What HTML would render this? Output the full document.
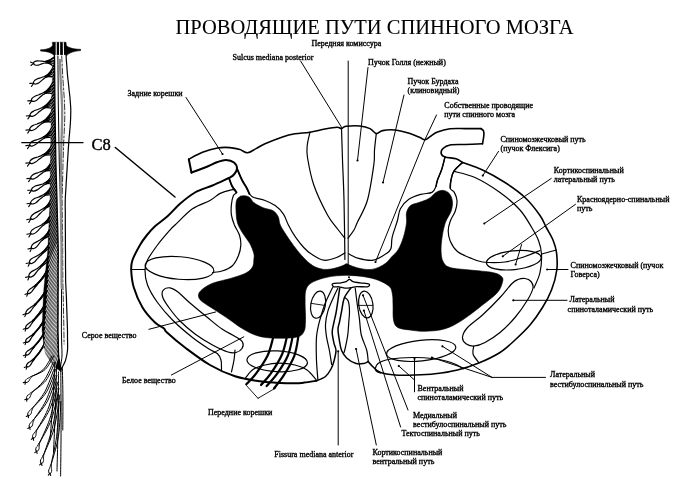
<!DOCTYPE html>
<html lang="ru">
<head>
<meta charset="utf-8">
<title>Проводящие пути спинного мозга</title>
<style>
html,body{margin:0;padding:0;background:#fff;}
body{width:688px;height:491px;overflow:hidden;}
svg{display:block;will-change:transform;}
text{font-family:"Liberation Serif","DejaVu Serif",serif;}
.lb{font-weight:400;stroke:#000;stroke-width:0.35px;}
.ti{font-weight:400;stroke:#000;stroke-width:0.08px;}
.c8{font-weight:400;stroke:#000;stroke-width:0.4px;}
</style>
</head>
<body>
<svg width="688" height="491" viewBox="0 0 688 491">
<rect width="688" height="491" fill="#fff"/>
<g stroke-linecap="round" stroke-linejoin="round">
<path d="M54.5 60L54.6 66L54.7 72L54.7 78L54.8 84L54.8 90L54.9 96L54.9 102L55 108L55.1 114L55.2 120L55.3 126L55.4 132L55.4 138L55.5 144L55.6 150L55.7 156L55.9 162L56 168L56.2 174L56.4 180L56.6 186L56.8 192L56.9 198L57.1 204L57.3 210L57.4 216L57.6 222L57.7 228L57.9 234L58 240L58.2 246L58.3 252L58.3 258L58.2 264L58.2 270L58.2 276L58.2 282L58.2 288L58.1 294L58.1 300L58.1 306L58.1 312L58 318L58 324L58 330L58.1 336L58.3 342L58.4 348L58.6 354L59.2 360L60.4 366L61.3 369L61.3 372L53.4 366L49.2 360L45.6 354L44.1 348L43.4 342L42.7 336L42 330L42.2 324L42.5 318L42.7 312L43 306L43.2 300L43.5 294L43.9 288L44.5 282L45.1 276L45.7 270L46.3 264L47 258L47.6 252L48 246L48.2 240L48.5 234L48.8 228L49 222L49.3 216L49.6 210L49.8 204L50 198L50.1 192L50.1 186L50.2 180L50.3 174L50.3 168L50.4 162L50.5 156L50.6 150L50.7 144L50.8 138L50.9 132L51 126L51.1 120L51.2 114L51.3 108L51.5 102L51.7 96L51.9 90L52.1 84L52.4 78L52.8 72L53.3 66L53.8 60Z" fill="#000" stroke="#000" stroke-width="0.3"/>
<path d="M45.8 61.4C50.1 60.9 52.8 58.2 54.8 56.5" fill="none" stroke="#000" stroke-width="1.4"/>
<path d="M45.7 61.8C50 61.3 52.8 58.8 54.8 57.2" fill="none" stroke="#000" stroke-width="1.4"/>
<path d="M45.7 62.1C49.6 61.7 52.7 61.1 54.7 60.5" fill="none" stroke="#000" stroke-width="1.4"/>
<path d="M45.7 62.5C49.5 62 52.5 63.3 54.5 63.8" fill="none" stroke="#000" stroke-width="1.4"/>
<path d="M45.7 62.8C49.8 62.4 52.4 65.5 54.4 67" fill="none" stroke="#000" stroke-width="1.4"/>
<path d="M46 75.8C52 72.5 52.6 67.5 54.6 63" fill="none" stroke="#000" stroke-width="1.4"/>
<path d="M45.9 76.1C50.9 73.4 52.4 69.9 54.4 66.5" fill="none" stroke="#000" stroke-width="1.4"/>
<path d="M45.8 76.5C49.9 74.2 52.3 72.3 54.3 70" fill="none" stroke="#000" stroke-width="1.4"/>
<path d="M45.7 76.8C49.1 75 52.1 74.7 54.1 73.5" fill="none" stroke="#000" stroke-width="1.4"/>
<path d="M45.6 77.2C48.7 75.5 52.1 77.1 54.1 77" fill="none" stroke="#000" stroke-width="1.4"/>
<path d="M44.2 92.5C50.3 88.8 52 84.2 54 79.7" fill="none" stroke="#000" stroke-width="1.4"/>
<path d="M44.1 92.9C49.3 89.7 52 86.6 54 83.2" fill="none" stroke="#000" stroke-width="1.4"/>
<path d="M43.9 93.2C48.4 90.6 51.9 89 53.9 86.7" fill="none" stroke="#000" stroke-width="1.4"/>
<path d="M43.8 93.6C47.7 91.2 51.9 91.4 53.9 90.2" fill="none" stroke="#000" stroke-width="1.4"/>
<path d="M43.7 93.9C47.4 91.7 51.8 93.8 53.8 93.7" fill="none" stroke="#000" stroke-width="1.4"/>
<path d="M43.3 107.2C49.5 103.5 51.8 98.9 53.8 94.4" fill="none" stroke="#000" stroke-width="1.4"/>
<path d="M43.1 107.6C48.5 104.3 51.7 101.3 53.7 97.9" fill="none" stroke="#000" stroke-width="1.4"/>
<path d="M43 107.9C47.7 105.1 51.7 103.7 53.7 101.4" fill="none" stroke="#000" stroke-width="1.4"/>
<path d="M42.9 108.3C47.1 105.8 51.7 106.1 53.7 104.9" fill="none" stroke="#000" stroke-width="1.4"/>
<path d="M42.8 108.6C46.8 106.2 51.7 108.5 53.7 108.4" fill="none" stroke="#000" stroke-width="1.4"/>
<path d="M42.4 121.8C49.4 117.6 51.7 112.2 53.7 107" fill="none" stroke="#000" stroke-width="1.4"/>
<path d="M42.2 122.2C48.4 118.5 51.6 114.7 53.6 110.8" fill="none" stroke="#000" stroke-width="1.4"/>
<path d="M42.1 122.5C47.4 119.4 51.6 117.3 53.6 114.5" fill="none" stroke="#000" stroke-width="1.4"/>
<path d="M42 122.9C46.7 120.1 51.6 119.9 53.6 118.2" fill="none" stroke="#000" stroke-width="1.4"/>
<path d="M41.9 123.2C46.3 120.6 51.6 122.4 53.6 122" fill="none" stroke="#000" stroke-width="1.4"/>
<path d="M43.2 137.3C50.2 133.4 51.6 127.7 53.6 122.5" fill="none" stroke="#000" stroke-width="1.4"/>
<path d="M43.1 137.6C49.1 134.3 51.6 130.2 53.6 126.2" fill="none" stroke="#000" stroke-width="1.4"/>
<path d="M43 138C48.1 135.2 51.6 132.8 53.6 130" fill="none" stroke="#000" stroke-width="1.4"/>
<path d="M42.9 138.3C47.3 135.9 51.6 135.4 53.6 133.8" fill="none" stroke="#000" stroke-width="1.4"/>
<path d="M42.8 138.7C46.9 136.4 51.6 137.9 53.6 137.5" fill="none" stroke="#000" stroke-width="1.4"/>
<path d="M43.2 154.8C50.2 150.9 51.6 145.2 53.6 140" fill="none" stroke="#000" stroke-width="1.4"/>
<path d="M43.1 155.1C49.1 151.8 51.6 147.7 53.6 143.8" fill="none" stroke="#000" stroke-width="1.4"/>
<path d="M43 155.5C48.1 152.7 51.6 150.3 53.6 147.5" fill="none" stroke="#000" stroke-width="1.4"/>
<path d="M42.9 155.8C47.3 153.4 51.6 152.9 53.6 151.2" fill="none" stroke="#000" stroke-width="1.4"/>
<path d="M42.8 156.2C46.9 153.9 51.6 155.4 53.6 155" fill="none" stroke="#000" stroke-width="1.4"/>
<path d="M44.1 170.3C50.9 166.5 51.6 160.7 53.6 155.5" fill="none" stroke="#000" stroke-width="1.4"/>
<path d="M44 170.6C49.7 167.4 51.6 163.2 53.6 159.2" fill="none" stroke="#000" stroke-width="1.4"/>
<path d="M43.9 171C48.7 168.3 51.6 165.8 53.6 163" fill="none" stroke="#000" stroke-width="1.4"/>
<path d="M43.8 171.3C47.9 169 51.7 168.4 53.7 166.8" fill="none" stroke="#000" stroke-width="1.4"/>
<path d="M43.7 171.7C47.5 169.6 51.7 170.9 53.7 170.5" fill="none" stroke="#000" stroke-width="1.4"/>
<path d="M45 183C51.8 179.7 51.7 173.5 53.7 168.3" fill="none" stroke="#000" stroke-width="1.4"/>
<path d="M44.9 183.4C50.6 180.6 51.7 176 53.7 172.1" fill="none" stroke="#000" stroke-width="1.4"/>
<path d="M44.8 183.7C49.5 181.4 51.8 178.6 53.8 175.8" fill="none" stroke="#000" stroke-width="1.4"/>
<path d="M44.7 184.1C48.6 182.2 51.8 181.1 53.8 179.6" fill="none" stroke="#000" stroke-width="1.4"/>
<path d="M44.6 184.4C48.2 182.7 51.8 183.7 53.8 183.3" fill="none" stroke="#000" stroke-width="1.4"/>
<path d="M43.7 194.8C50.4 190.6 51.8 185.2 53.8 180" fill="none" stroke="#000" stroke-width="1.4"/>
<path d="M43.6 195.2C49.3 191.6 51.8 187.7 53.8 183.8" fill="none" stroke="#000" stroke-width="1.4"/>
<path d="M43.4 195.5C48.3 192.5 51.9 190.3 53.9 187.5" fill="none" stroke="#000" stroke-width="1.4"/>
<path d="M43.3 195.9C47.6 193.3 51.9 192.9 53.9 191.2" fill="none" stroke="#000" stroke-width="1.4"/>
<path d="M43.2 196.2C47.2 193.8 52 195.4 54 195" fill="none" stroke="#000" stroke-width="1.4"/>
<path d="M44.3 208.2C54.8 200.3 51.8 190.1 53.8 180.3" fill="none" stroke="#000" stroke-width="1.4"/>
<path d="M44.1 208.6C52.9 202 51.9 193.9 53.9 186.1" fill="none" stroke="#000" stroke-width="1.4"/>
<path d="M44 208.9C51 203.6 51.9 197.8 53.9 191.8" fill="none" stroke="#000" stroke-width="1.4"/>
<path d="M43.9 209.3C49.3 205.2 52 201.6 54 197.6" fill="none" stroke="#000" stroke-width="1.4"/>
<path d="M43.7 209.6C47.9 206.5 52 205.5 54 203.3" fill="none" stroke="#000" stroke-width="1.4"/>
<path d="M43.3 223.9C54.1 216 52 205.8 54 196" fill="none" stroke="#000" stroke-width="1.4"/>
<path d="M43.2 224.2C52.2 217.7 52 209.6 54 201.8" fill="none" stroke="#000" stroke-width="1.4"/>
<path d="M43.1 224.6C50.4 219.3 51.9 213.5 53.9 207.5" fill="none" stroke="#000" stroke-width="1.4"/>
<path d="M43 224.9C48.7 220.8 51.9 217.3 53.9 213.2" fill="none" stroke="#000" stroke-width="1.4"/>
<path d="M42.8 225.3C47.3 222 51.8 221.2 53.8 219" fill="none" stroke="#000" stroke-width="1.4"/>
<path d="M42.5 238.5C52.9 229.9 51.9 220.4 53.9 210.6" fill="none" stroke="#000" stroke-width="1.4"/>
<path d="M42.4 238.9C51 231.7 51.9 224.2 53.9 216.3" fill="none" stroke="#000" stroke-width="1.4"/>
<path d="M42.2 239.2C49.3 233.4 51.8 228.1 53.8 222.1" fill="none" stroke="#000" stroke-width="1.4"/>
<path d="M42.1 239.6C47.7 234.9 51.7 232 53.7 227.8" fill="none" stroke="#000" stroke-width="1.4"/>
<path d="M42 239.9C46.4 236.2 51.7 235.8 53.7 233.6" fill="none" stroke="#000" stroke-width="1.4"/>
<path d="M40.8 253.5C56.2 241.5 51.9 226.5 53.9 212" fill="none" stroke="#000" stroke-width="1.1"/>
<path d="M40.5 254.2C52.9 244.7 51.8 233.3 53.8 222" fill="none" stroke="#000" stroke-width="1.1"/>
<path d="M40.3 255C49.7 247.7 51.7 240 53.7 232" fill="none" stroke="#000" stroke-width="1.1"/>
<path d="M40 255.7C46.8 250.5 51.6 246.8 53.6 242" fill="none" stroke="#000" stroke-width="1.1"/>
<path d="M39.9 266.5C54.7 253.6 51.8 239.5 53.8 225" fill="none" stroke="#000" stroke-width="1.1"/>
<path d="M39.6 267.3C51.5 256.9 51.7 246.3 53.7 235" fill="none" stroke="#000" stroke-width="1.1"/>
<path d="M39.3 268C48.4 260.1 51.6 253.1 53.6 245" fill="none" stroke="#000" stroke-width="1.1"/>
<path d="M39 268.8C45.6 263 51.3 259.8 53.3 255" fill="none" stroke="#000" stroke-width="1.1"/>
<path d="M36.4 284.3C57.4 263.5 51.8 243 53.8 220.7" fill="none" stroke="#000" stroke-width="1.1"/>
<path d="M36 285C53.3 268 51.7 251.9 53.7 234" fill="none" stroke="#000" stroke-width="1.1"/>
<path d="M35.7 285.8C49.2 272.4 51.6 260.8 53.6 247.4" fill="none" stroke="#000" stroke-width="1.1"/>
<path d="M35.4 286.5C45.3 276.7 51 269.7 53 260.7" fill="none" stroke="#000" stroke-width="1.1"/>
<path d="M35.5 303.6C56.6 282.7 51.6 262.3 53.6 240" fill="none" stroke="#000" stroke-width="1.1"/>
<path d="M35.1 304.3C52.4 287.2 51.4 271.2 53.4 253.3" fill="none" stroke="#000" stroke-width="1.1"/>
<path d="M34.8 305.1C48.3 291.7 50.7 280.1 52.7 266.7" fill="none" stroke="#000" stroke-width="1.1"/>
<path d="M34.5 305.8C44.4 296.1 49.9 289 51.9 280" fill="none" stroke="#000" stroke-width="1.1"/>
<path d="M33.6 319.6C54.1 297.9 51.2 278.3 53.2 256" fill="none" stroke="#000" stroke-width="1.1"/>
<path d="M33.3 320.4C50.1 302.6 50.5 287.2 52.5 269.3" fill="none" stroke="#000" stroke-width="1.1"/>
<path d="M33 321.1C46.1 307.2 49.8 296.1 51.8 282.7" fill="none" stroke="#000" stroke-width="1.1"/>
<path d="M32.6 321.9C42.4 311.5 49.3 305 51.3 296" fill="none" stroke="#000" stroke-width="1.1"/>
<path d="M33.6 333.6C56.9 309.8 50.9 287.1 52.9 262" fill="none" stroke="#000" stroke-width="1.1"/>
<path d="M33.3 334.3C52.5 314.6 50.2 296.4 52.2 276" fill="none" stroke="#000" stroke-width="1.1"/>
<path d="M32.9 335.1C48.2 319.5 49.4 305.8 51.4 290" fill="none" stroke="#000" stroke-width="1.1"/>
<path d="M32.6 335.8C44.1 324.1 49.1 315.1 51.1 304" fill="none" stroke="#000" stroke-width="1.1"/>
<path d="M33.6 346.6C57.1 323.1 50.2 300.1 52.2 275" fill="none" stroke="#000" stroke-width="1.1"/>
<path d="M33.3 347.3C52.6 327.9 49.5 309.4 51.5 289" fill="none" stroke="#000" stroke-width="1.1"/>
<path d="M32.9 348.1C48.3 332.7 49.1 318.8 51.1 303" fill="none" stroke="#000" stroke-width="1.1"/>
<path d="M32.6 348.8C44.2 337.2 48.8 328.1 50.8 317" fill="none" stroke="#000" stroke-width="1.1"/>
<path d="M33.8 358.6C56.5 334.4 49.6 312.1 51.6 287" fill="none" stroke="#000" stroke-width="1.1"/>
<path d="M33.5 359.4C52.2 339.4 49.2 321.4 51.2 301" fill="none" stroke="#000" stroke-width="1.1"/>
<path d="M33.2 360.1C48 344.3 48.8 330.8 50.8 315" fill="none" stroke="#000" stroke-width="1.1"/>
<path d="M32.8 360.9C44 349 48.5 340.1 50.5 329" fill="none" stroke="#000" stroke-width="1.1"/>
<path d="M52.7 64.9L53.7 64" fill="none" stroke="#fff" stroke-width="0.5"/>
<path d="M52.5 68.3L53.7 67.1" fill="none" stroke="#fff" stroke-width="0.5"/>
<path d="M52.3 71.7L53.7 70.2" fill="none" stroke="#fff" stroke-width="0.5"/>
<path d="M52 75.1L53.8 73.4" fill="none" stroke="#fff" stroke-width="0.5"/>
<path d="M51.9 78.6L53.8 76.5" fill="none" stroke="#fff" stroke-width="0.5"/>
<path d="M51.8 81.9L53.8 79.7" fill="none" stroke="#fff" stroke-width="0.5"/>
<path d="M51.7 85.3L53.9 82.9" fill="none" stroke="#fff" stroke-width="0.5"/>
<path d="M51.6 88.7L53.9 86.1" fill="none" stroke="#fff" stroke-width="0.5"/>
<path d="M51.5 92.1L53.9 89.3" fill="none" stroke="#fff" stroke-width="0.5"/>
<path d="M51.4 95.6L53.9 92.5" fill="none" stroke="#fff" stroke-width="0.5"/>
<path d="M51.3 99L54 95.7" fill="none" stroke="#fff" stroke-width="0.5"/>
<path d="M51.2 102.5L54 99" fill="none" stroke="#fff" stroke-width="0.5"/>
<path d="M51.1 106L54 102.2" fill="none" stroke="#fff" stroke-width="0.5"/>
<path d="M51 109.4L54.1 105.5" fill="none" stroke="#fff" stroke-width="0.5"/>
<path d="M51 112.9L54.1 108.8" fill="none" stroke="#fff" stroke-width="0.5"/>
<path d="M50.9 116.4L54.1 112.1" fill="none" stroke="#fff" stroke-width="0.5"/>
<path d="M50.9 119.9L54.2 115.4" fill="none" stroke="#fff" stroke-width="0.5"/>
<path d="M50.8 123.5L54.2 118.7" fill="none" stroke="#fff" stroke-width="0.5"/>
<path d="M50.8 127.1L54.3 122" fill="none" stroke="#fff" stroke-width="0.5"/>
<path d="M50.8 130.6L54.3 125.4" fill="none" stroke="#fff" stroke-width="0.5"/>
<path d="M50.7 134.2L54.4 128.7" fill="none" stroke="#fff" stroke-width="0.5"/>
<path d="M50.7 137.9L54.5 132.1" fill="none" stroke="#fff" stroke-width="0.5"/>
<path d="M50.7 141.5L54.5 135.5" fill="none" stroke="#fff" stroke-width="0.5"/>
<path d="M50.6 145.2L54.6 138.9" fill="none" stroke="#fff" stroke-width="0.5"/>
<path d="M50.6 148.8L54.6 142.3" fill="none" stroke="#fff" stroke-width="0.5"/>
<path d="M50.5 152.6L54.7 145.8" fill="none" stroke="#fff" stroke-width="0.5"/>
<path d="M50.5 156.3L54.7 149.2" fill="none" stroke="#fff" stroke-width="0.5"/>
<path d="M50.4 160L54.8 152.7" fill="none" stroke="#fff" stroke-width="0.5"/>
<path d="M50.4 163.9L54.8 156.1" fill="none" stroke="#fff" stroke-width="0.5"/>
<path d="M50.3 167.7L54.9 159.6" fill="none" stroke="#fff" stroke-width="0.5"/>
<path d="M50.3 171.5L55 163.1" fill="none" stroke="#fff" stroke-width="0.5"/>
<path d="M50.3 175.4L55.1 166.6" fill="none" stroke="#fff" stroke-width="0.5"/>
<path d="M50.3 179.3L55.2 170.1" fill="none" stroke="#fff" stroke-width="0.5"/>
<path d="M50.3 183.2L55.3 173.7" fill="none" stroke="#fff" stroke-width="0.5"/>
<path d="M50.2 187.2L55.4 177.2" fill="none" stroke="#fff" stroke-width="0.5"/>
<path d="M50.2 191.1L55.5 180.8" fill="none" stroke="#fff" stroke-width="0.5"/>
<path d="M50.2 195.1L55.6 184.4" fill="none" stroke="#fff" stroke-width="0.5"/>
<path d="M50.2 199.1L55.7 188" fill="none" stroke="#fff" stroke-width="0.5"/>
<path d="M50.2 203.2L55.8 191.6" fill="none" stroke="#fff" stroke-width="0.5"/>
<path d="M50.2 207.2L56 195.2" fill="none" stroke="#fff" stroke-width="0.5"/>
<path d="M50.2 211.3L56.1 198.9" fill="none" stroke="#fff" stroke-width="0.5"/>
<path d="M50.1 215.6L56.2 202.5" fill="none" stroke="#fff" stroke-width="0.5"/>
<path d="M49.9 219.9L56.3 206.2" fill="none" stroke="#fff" stroke-width="0.5"/>
<path d="M49.8 224.3L56.4 209.9" fill="none" stroke="#fff" stroke-width="0.5"/>
<path d="M49.7 228.7L56.5 213.6" fill="none" stroke="#fff" stroke-width="0.5"/>
<path d="M49.6 233.1L56.5 217.3" fill="none" stroke="#fff" stroke-width="0.5"/>
<path d="M49.4 237.6L56.6 221" fill="none" stroke="#fff" stroke-width="0.5"/>
<path d="M49.3 242.1L56.7 224.8" fill="none" stroke="#fff" stroke-width="0.5"/>
<path d="M49.2 246.6L56.8 228.5" fill="none" stroke="#fff" stroke-width="0.5"/>
<path d="M49.1 251.1L56.9 232.3" fill="none" stroke="#fff" stroke-width="0.5"/>
<path d="M48.9 255.7L57 236.1" fill="none" stroke="#fff" stroke-width="0.5"/>
<path d="M48.8 260.4L57.1 239.9" fill="none" stroke="#fff" stroke-width="0.5"/>
<path d="M48.7 265L57.2 243.7" fill="none" stroke="#fff" stroke-width="0.8"/>
<path d="M48.6 269.7L57.3 247.6" fill="none" stroke="#fff" stroke-width="0.8"/>
<path d="M48.4 274.5L57.4 251.4" fill="none" stroke="#fff" stroke-width="0.8"/>
<path d="M48 279.6L57.4 255.3" fill="none" stroke="#fff" stroke-width="0.8"/>
<path d="M47.7 284.6L57.4 259.1" fill="none" stroke="#fff" stroke-width="0.8"/>
<path d="M47.3 289.7L57.4 263" fill="none" stroke="#fff" stroke-width="0.8"/>
<path d="M47 294.9L57.3 267" fill="none" stroke="#fff" stroke-width="0.8"/>
<path d="M46.6 300.1L57.3 270.9" fill="none" stroke="#fff" stroke-width="0.8"/>
<path d="M46.3 305.3L57.3 274.8" fill="none" stroke="#fff" stroke-width="0.8"/>
<path d="M45.9 310.6L57.3 278.8" fill="none" stroke="#fff" stroke-width="0.8"/>
<path d="M45.6 315.9L57.3 282.8" fill="none" stroke="#fff" stroke-width="0.8"/>
<path d="M45.2 321.3L57.3 286.8" fill="none" stroke="#fff" stroke-width="0.8"/>
<path d="M44.9 326.6L57.2 290.8" fill="none" stroke="#fff" stroke-width="0.8"/>
<path d="M44.8 331.4L57.2 294.8" fill="none" stroke="#fff" stroke-width="0.8"/>
<path d="M44.6 336.3L57.2 298.8" fill="none" stroke="#fff" stroke-width="0.8"/>
<path d="M44.5 341.1L57.2 302.9" fill="none" stroke="#fff" stroke-width="0.8"/>
<path d="M44.3 346.1L57.2 307" fill="none" stroke="#fff" stroke-width="0.8"/>
<path d="M44.2 351L57.2 311" fill="none" stroke="#fff" stroke-width="0.8"/>
<path d="M44 356L57.2 315.1" fill="none" stroke="#fff" stroke-width="0.8"/>
<path d="M43.9 361L57.1 319.3" fill="none" stroke="#fff" stroke-width="0.8"/>
<path d="M43.7 366L57.1 323.4" fill="none" stroke="#fff" stroke-width="0.8"/>
<path d="M43.6 371.1L57.1 327.6" fill="none" stroke="#fff" stroke-width="0.8"/>
<path d="M43.7 375.6L57.1 331.7" fill="none" stroke="#fff" stroke-width="0.8"/>
<path d="M44.1 379.2L57.2 335.9" fill="none" stroke="#fff" stroke-width="0.8"/>
<path d="M44.5 382.8L57.3 340.1" fill="none" stroke="#fff" stroke-width="0.8"/>
<path d="M44.9 386.4L57.4 344.3" fill="none" stroke="#fff" stroke-width="0.8"/>
<path d="M45.4 389.9L57.5 348.6" fill="none" stroke="#fff" stroke-width="0.8"/>
<path d="M46.1 392.5L57.6 352.8" fill="none" stroke="#fff" stroke-width="0.8"/>
<path d="M48.1 390.9L57.9 357.1" fill="none" stroke="#fff" stroke-width="0.8"/>
<path d="M33.5 63.4C33.6 64 34.3 64.7 35.1 65C35.9 65.3 37.1 65.3 38.2 65.1C39.3 64.9 40.5 64.2 41.6 63.9C42.7 63.5 43.9 63.2 44.7 63C45.6 62.8 46.5 62.9 46.8 62.6C47.1 62.4 47 61.6 46.6 61.4C46.3 61.2 45.4 61.5 44.6 61.5C43.7 61.4 42.5 61.4 41.3 61.2C40.2 61.1 38.8 60.8 37.7 60.8C36.6 60.9 35.4 61.1 34.7 61.6C34 62 33.5 62.9 33.5 63.4Z" fill="#fff" stroke="#000" stroke-width="1.2"/>
<path d="M33.7 63.4L30.5 62" fill="none" stroke="#000" stroke-width="1.1"/>
<path d="M33.7 63.4L30.9 65.5" fill="none" stroke="#000" stroke-width="1.1"/>
<path d="M33.5 83.3C33.8 83.8 34.8 84.1 35.8 84C36.7 83.9 37.9 83.4 39 82.7C40 82.1 41.1 80.9 42.1 80.1C43.1 79.2 44.2 78.4 45 77.8C45.8 77.2 46.8 77 47 76.6C47.2 76.2 46.8 75.5 46.4 75.4C45.9 75.4 45.2 76.1 44.3 76.5C43.3 76.8 42.1 77.3 40.8 77.7C39.6 78.1 38 78.4 36.9 79C35.8 79.5 34.6 80.3 34.1 81C33.5 81.8 33.3 82.8 33.5 83.3Z" fill="#fff" stroke="#000" stroke-width="1.2"/>
<path d="M33.7 83.2L29.8 83.4" fill="none" stroke="#000" stroke-width="1.1"/>
<path d="M33.7 83.2L31.5 86.4" fill="none" stroke="#000" stroke-width="1.1"/>
<path d="M31.6 100.7C31.8 101.2 32.9 101.4 33.8 101.3C34.7 101.2 36 100.6 37.1 99.9C38.1 99.1 39.2 97.9 40.2 97C41.3 96.1 42.3 95.2 43.1 94.6C43.9 94 44.9 93.7 45.1 93.3C45.4 92.8 44.9 92.1 44.5 92.1C44 92.2 43.3 92.9 42.3 93.3C41.4 93.7 40.1 94.2 38.9 94.7C37.6 95.2 36 95.6 34.9 96.2C33.7 96.8 32.6 97.6 32 98.4C31.5 99.1 31.3 100.2 31.6 100.7Z" fill="#fff" stroke="#000" stroke-width="1.2"/>
<path d="M31.7 100.6L27.8 100.9" fill="none" stroke="#000" stroke-width="1.1"/>
<path d="M31.7 100.6L29.5 103.9" fill="none" stroke="#000" stroke-width="1.1"/>
<path d="M30.1 115.7C30.4 116.1 31.4 116.4 32.4 116.3C33.3 116.1 34.7 115.5 35.8 114.7C36.9 114 38.1 112.7 39.1 111.8C40.2 110.9 41.3 110 42.1 109.4C43 108.7 44 108.4 44.2 108C44.5 107.5 44.1 106.8 43.6 106.8C43.1 106.9 42.3 107.6 41.3 108C40.4 108.5 39 109 37.7 109.5C36.5 110 34.8 110.4 33.6 111.1C32.4 111.7 31.2 112.6 30.6 113.3C30 114.1 29.8 115.2 30.1 115.7Z" fill="#fff" stroke="#000" stroke-width="1.2"/>
<path d="M30.2 115.6L26.2 116" fill="none" stroke="#000" stroke-width="1.1"/>
<path d="M30.2 115.6L27.9 118.9" fill="none" stroke="#000" stroke-width="1.1"/>
<path d="M29.8 129.9C30 130.4 31.1 130.7 32 130.5C32.9 130.4 34.2 129.8 35.3 129.1C36.3 128.4 37.4 127.1 38.4 126.3C39.4 125.4 40.5 124.5 41.3 123.9C42.1 123.3 43.1 123 43.3 122.6C43.6 122.1 43.1 121.4 42.7 121.4C42.2 121.4 41.5 122.1 40.5 122.6C39.6 123 38.3 123.5 37.1 124C35.8 124.4 34.2 124.8 33.1 125.4C31.9 126 30.8 126.8 30.3 127.6C29.7 128.3 29.5 129.4 29.8 129.9Z" fill="#fff" stroke="#000" stroke-width="1.2"/>
<path d="M29.9 129.8L26 130.1" fill="none" stroke="#000" stroke-width="1.1"/>
<path d="M29.9 129.8L27.7 133.1" fill="none" stroke="#000" stroke-width="1.1"/>
<path d="M29.8 145.4C30.1 145.9 31.1 146.2 32.1 146.1C33.1 145.9 34.4 145.3 35.5 144.6C36.7 143.9 37.9 142.7 39 141.8C40.1 140.9 41.2 140 42.1 139.4C42.9 138.8 44 138.5 44.2 138.1C44.5 137.7 44.1 136.9 43.6 136.9C43.1 136.9 42.3 137.6 41.3 138.1C40.3 138.5 39 139 37.7 139.5C36.4 139.9 34.7 140.3 33.4 140.9C32.2 141.5 31 142.3 30.4 143C29.8 143.8 29.5 144.9 29.8 145.4Z" fill="#fff" stroke="#000" stroke-width="1.2"/>
<path d="M29.9 145.3L25.9 145.6" fill="none" stroke="#000" stroke-width="1.1"/>
<path d="M29.9 145.3L27.5 148.6" fill="none" stroke="#000" stroke-width="1.1"/>
<path d="M29.8 162.9C30.1 163.4 31.1 163.7 32.1 163.6C33.1 163.4 34.4 162.8 35.5 162.1C36.7 161.4 37.9 160.2 39 159.3C40.1 158.4 41.2 157.5 42.1 156.9C42.9 156.3 44 156 44.2 155.6C44.5 155.2 44.1 154.4 43.6 154.4C43.1 154.4 42.3 155.1 41.3 155.6C40.3 156 39 156.5 37.7 157C36.4 157.4 34.7 157.8 33.4 158.4C32.2 159 31 159.8 30.4 160.5C29.8 161.3 29.5 162.4 29.8 162.9Z" fill="#fff" stroke="#000" stroke-width="1.2"/>
<path d="M29.9 162.8L25.9 163.1" fill="none" stroke="#000" stroke-width="1.1"/>
<path d="M29.9 162.8L27.5 166.1" fill="none" stroke="#000" stroke-width="1.1"/>
<path d="M30.8 178.4C31.1 178.9 32.1 179.2 33.1 179.1C34 178.9 35.4 178.3 36.5 177.6C37.6 176.9 38.8 175.6 39.9 174.8C41 173.9 42.1 173 43 172.4C43.9 171.8 44.9 171.5 45.1 171.1C45.4 170.7 45 169.9 44.5 169.9C44 169.9 43.2 170.6 42.2 171.1C41.3 171.5 39.9 172 38.6 172.5C37.3 172.9 35.6 173.3 34.4 173.9C33.2 174.5 32 175.3 31.4 176.1C30.8 176.8 30.5 177.9 30.8 178.4Z" fill="#fff" stroke="#000" stroke-width="1.2"/>
<path d="M30.9 178.3L26.9 178.6" fill="none" stroke="#000" stroke-width="1.1"/>
<path d="M30.9 178.3L28.6 181.6" fill="none" stroke="#000" stroke-width="1.1"/>
<path d="M31.6 190.3C31.8 190.8 32.9 191.2 33.8 191.1C34.8 191.1 36.1 190.5 37.2 189.9C38.4 189.3 39.6 188.1 40.7 187.3C41.8 186.5 43 185.7 43.8 185.1C44.7 184.5 45.7 184.3 46 183.9C46.2 183.5 45.9 182.8 45.4 182.7C44.9 182.7 44.1 183.3 43.2 183.7C42.2 184.1 40.8 184.5 39.5 184.9C38.2 185.3 36.5 185.5 35.3 186C34.1 186.6 32.9 187.3 32.3 188C31.7 188.7 31.3 189.8 31.6 190.3Z" fill="#fff" stroke="#000" stroke-width="1.2"/>
<path d="M31.7 190.2L27.7 190.3" fill="none" stroke="#000" stroke-width="1.1"/>
<path d="M31.7 190.2L29.3 193.4" fill="none" stroke="#000" stroke-width="1.1"/>
<path d="M30.8 203.4C31.1 203.8 32.1 204.1 33.1 203.9C34 203.8 35.3 203.1 36.4 202.4C37.5 201.6 38.6 200.3 39.6 199.4C40.7 198.5 41.8 197.6 42.6 197C43.4 196.3 44.4 196 44.6 195.5C44.9 195.1 44.4 194.4 44 194.5C43.5 194.5 42.7 195.2 41.8 195.6C40.8 196.1 39.5 196.7 38.2 197.2C37 197.7 35.3 198.1 34.1 198.7C33 199.4 31.8 200.2 31.3 201C30.7 201.8 30.5 202.9 30.8 203.4Z" fill="#fff" stroke="#000" stroke-width="1.2"/>
<path d="M30.9 203.3L26.9 203.7" fill="none" stroke="#000" stroke-width="1.1"/>
<path d="M30.9 203.3L28.7 206.6" fill="none" stroke="#000" stroke-width="1.1"/>
<path d="M30.8 218.9C31.1 219.3 32.3 219.4 33.3 219.1C34.3 218.8 35.6 218 36.7 217.1C37.9 216.1 39 214.6 40.1 213.5C41.1 212.5 42.2 211.4 43.1 210.6C43.9 209.8 45 209.3 45.2 208.8C45.4 208.4 44.9 207.7 44.4 207.8C43.9 207.9 43.1 208.7 42.1 209.3C41.2 209.9 39.8 210.7 38.4 211.4C37.1 212.1 35.4 212.8 34.2 213.6C33 214.5 31.8 215.5 31.2 216.4C30.6 217.3 30.4 218.4 30.8 218.9Z" fill="#fff" stroke="#000" stroke-width="1.2"/>
<path d="M30.9 218.8L26.7 219.8" fill="none" stroke="#000" stroke-width="1.1"/>
<path d="M30.9 218.8L28.8 222.5" fill="none" stroke="#000" stroke-width="1.1"/>
<path d="M30.7 233.6C31.1 234.1 32.2 234.2 33.1 234C34.1 233.7 35.3 233 36.4 232.1C37.5 231.3 38.5 229.9 39.5 228.9C40.5 227.9 41.5 226.9 42.3 226.1C43.1 225.4 44.1 225 44.3 224.5C44.5 224.1 44 223.4 43.5 223.5C43 223.5 42.3 224.3 41.4 224.9C40.5 225.4 39.2 226.1 37.9 226.7C36.7 227.4 35 227.9 33.9 228.7C32.7 229.4 31.6 230.4 31.1 231.2C30.6 232 30.4 233.1 30.7 233.6Z" fill="#fff" stroke="#000" stroke-width="1.2"/>
<path d="M30.9 233.5L26.9 234.3" fill="none" stroke="#000" stroke-width="1.1"/>
<path d="M30.9 233.5L28.9 237.1" fill="none" stroke="#000" stroke-width="1.1"/>
<path d="M31.5 248.2C31.8 248.6 32.9 248.8 33.8 248.5C34.7 248.3 35.8 247.5 36.7 246.7C37.6 245.8 38.5 244.4 39.3 243.4C40.1 242.4 41 241.4 41.7 240.7C42.4 240 43.3 239.5 43.4 239.1C43.6 238.7 43 238 42.6 238.1C42.1 238.2 41.5 239 40.7 239.5C39.9 240.1 38.7 240.7 37.6 241.4C36.5 242 34.9 242.6 33.9 243.3C32.9 244.1 32 245.1 31.6 245.9C31.2 246.7 31.1 247.8 31.5 248.2Z" fill="#fff" stroke="#000" stroke-width="1.2"/>
<path d="M31.6 248.1L27.9 249" fill="none" stroke="#000" stroke-width="1.1"/>
<path d="M31.6 248.1L30.1 251.6" fill="none" stroke="#000" stroke-width="1.1"/>
<path d="M29.7 262.9C30 263.4 31.1 263.6 31.9 263.4C32.8 263.1 33.9 262.4 34.8 261.7C35.8 260.9 36.6 259.5 37.5 258.6C38.3 257.6 39.2 256.7 39.9 256C40.6 255.3 41.4 254.9 41.6 254.5C41.8 254.1 41.2 253.4 40.8 253.5C40.4 253.5 39.8 254.3 38.9 254.8C38.1 255.3 36.9 255.9 35.8 256.5C34.7 257.1 33.2 257.6 32.2 258.3C31.2 258.9 30.2 259.9 29.8 260.6C29.4 261.4 29.3 262.5 29.7 262.9Z" fill="#fff" stroke="#000" stroke-width="1.2"/>
<path d="M29.8 262.8L26.1 263.5" fill="none" stroke="#000" stroke-width="1.1"/>
<path d="M29.8 262.8L28.2 266.2" fill="none" stroke="#000" stroke-width="1.1"/>
<path d="M29.2 276.6C29.5 277 30.6 277.2 31.4 276.9C32.3 276.6 33.4 275.9 34.3 275C35.1 274.2 35.9 272.8 36.7 271.8C37.5 270.8 38.3 269.8 39 269.1C39.6 268.4 40.5 267.9 40.6 267.5C40.8 267.1 40.2 266.4 39.8 266.5C39.3 266.6 38.8 267.4 38 267.9C37.2 268.5 36 269.2 35 269.8C33.9 270.4 32.4 271 31.4 271.8C30.5 272.5 29.6 273.5 29.2 274.3C28.8 275.1 28.8 276.2 29.2 276.6Z" fill="#fff" stroke="#000" stroke-width="1.2"/>
<path d="M29.3 276.5L25.6 277.4" fill="none" stroke="#000" stroke-width="1.1"/>
<path d="M29.3 276.5L27.9 280" fill="none" stroke="#000" stroke-width="1.1"/>
<path d="M27.8 293.4C28.1 293.7 28.9 293.7 29.6 293.4C30.3 293.1 31.1 292.4 31.8 291.7C32.5 290.9 33.2 289.7 33.8 288.9C34.4 288 35.1 287.1 35.6 286.5C36.1 285.8 36.8 285.4 36.9 285C37 284.7 36.6 284.3 36.3 284.4C35.9 284.5 35.5 285.1 34.8 285.7C34.2 286.2 33.3 286.8 32.4 287.5C31.5 288.1 30.4 288.7 29.6 289.4C28.8 290.1 28.1 290.9 27.8 291.6C27.5 292.3 27.5 293.1 27.8 293.4Z" fill="#fff" stroke="#000" stroke-width="1.2"/>
<path d="M27.9 293.3L24.9 294.4" fill="none" stroke="#000" stroke-width="1.1"/>
<path d="M27.9 293.3L26.7 296.3" fill="none" stroke="#000" stroke-width="1.1"/>
<path d="M26 313.6C26.3 313.9 27.2 313.9 27.9 313.5C28.6 313.2 29.6 312.4 30.4 311.5C31.1 310.7 31.9 309.4 32.6 308.5C33.3 307.6 34 306.6 34.6 305.9C35.2 305.2 35.9 304.7 36 304.3C36.2 304 35.7 303.5 35.4 303.7C35 303.8 34.5 304.5 33.8 305.1C33.1 305.7 32.1 306.4 31.2 307.1C30.2 307.8 29 308.5 28.1 309.3C27.3 310 26.5 311 26.1 311.7C25.8 312.4 25.7 313.3 26 313.6Z" fill="#fff" stroke="#000" stroke-width="1.2"/>
<path d="M26.1 313.5L23 314.8" fill="none" stroke="#000" stroke-width="1.1"/>
<path d="M26.1 313.5L24.8 316.6" fill="none" stroke="#000" stroke-width="1.1"/>
<path d="M25.9 328.4C26.2 328.6 27 328.6 27.7 328.4C28.3 328.1 29.1 327.4 29.7 326.7C30.3 325.9 30.9 324.8 31.4 324C32 323.2 32.5 322.3 33 321.7C33.4 321.1 34.1 320.7 34.1 320.3C34.2 320 33.8 319.6 33.5 319.7C33.1 319.8 32.7 320.4 32.2 320.9C31.6 321.4 30.8 322 30 322.6C29.2 323.2 28.1 323.8 27.4 324.5C26.7 325.1 26.1 326 25.8 326.6C25.6 327.3 25.6 328.1 25.9 328.4Z" fill="#fff" stroke="#000" stroke-width="1.2"/>
<path d="M26 328.3L23.3 329.3" fill="none" stroke="#000" stroke-width="1.1"/>
<path d="M26 328.3L25.1 331.1" fill="none" stroke="#000" stroke-width="1.1"/>
<path d="M25.9 342.1C26.2 342.4 27 342.4 27.7 342.1C28.3 341.9 29.1 341.2 29.7 340.5C30.3 339.8 30.8 338.7 31.4 337.9C31.9 337.1 32.5 336.3 33 335.7C33.4 335.1 34.1 334.7 34.1 334.3C34.2 334 33.8 333.6 33.5 333.7C33.1 333.8 32.7 334.4 32.2 334.9C31.6 335.3 30.8 335.9 30 336.5C29.2 337.1 28.1 337.6 27.4 338.3C26.7 338.9 26.1 339.7 25.8 340.3C25.6 341 25.6 341.8 25.9 342.1Z" fill="#fff" stroke="#000" stroke-width="1.2"/>
<path d="M26 342L23.3 342.9" fill="none" stroke="#000" stroke-width="1.1"/>
<path d="M26 342L25.1 344.7" fill="none" stroke="#000" stroke-width="1.1"/>
<path d="M25.9 354.9C26.2 355.2 27 355.2 27.7 355C28.3 354.7 29.1 354.1 29.7 353.4C30.3 352.7 30.8 351.6 31.4 350.8C31.9 350 32.5 349.2 33 348.6C33.4 348.1 34.1 347.7 34.1 347.3C34.2 347 33.8 346.6 33.5 346.7C33.1 346.7 32.7 347.4 32.2 347.8C31.6 348.3 30.8 348.9 30 349.4C29.2 350 28.1 350.5 27.4 351.1C26.7 351.7 26.1 352.5 25.8 353.1C25.6 353.8 25.6 354.6 25.9 354.9Z" fill="#fff" stroke="#000" stroke-width="1.2"/>
<path d="M26 354.8L23.3 355.7" fill="none" stroke="#000" stroke-width="1.1"/>
<path d="M26 354.8L25.1 357.5" fill="none" stroke="#000" stroke-width="1.1"/>
<path d="M26.8 366.7C27.1 367 27.9 367 28.5 366.8C29.1 366.5 29.8 365.9 30.4 365.2C30.9 364.5 31.4 363.5 31.9 362.7C32.4 361.9 32.9 361.2 33.3 360.6C33.7 360 34.3 359.6 34.4 359.3C34.4 359 34 358.6 33.6 358.7C33.3 358.8 33 359.4 32.5 359.8C31.9 360.3 31.2 360.8 30.4 361.4C29.7 361.9 28.7 362.4 28 363C27.4 363.6 26.8 364.4 26.6 365C26.4 365.6 26.5 366.4 26.8 366.7Z" fill="#fff" stroke="#000" stroke-width="1.2"/>
<path d="M26.9 366.6L24.3 367.5" fill="none" stroke="#000" stroke-width="1.1"/>
<path d="M26.9 366.6L26.2 369.2" fill="none" stroke="#000" stroke-width="1.1"/>
<path d="M31.4 376.5C33.4 375.4 39.9 372.9 43.3 369.5C46.8 366 50.6 358.2 52.1 356" fill="none" stroke="#000" stroke-width="1"/>
<path d="M31.4 376.5C33.7 375.4 41.4 372.9 45.1 369.5C48.9 366 52.4 358.2 53.9 356" fill="none" stroke="#000" stroke-width="1"/>
<path d="M25.4 382.2C25.7 382.5 26.3 382.7 26.9 382.5C27.5 382.3 28.6 381.4 29 380.9C29.5 380.4 29.4 380 29.7 379.5C30 379 30.5 378.2 30.9 377.8C31.2 377.4 31.7 377.1 31.7 376.9C31.8 376.6 31.4 376.2 31.1 376.2C30.8 376.2 30.6 376.7 30.1 377C29.7 377.4 28.9 377.8 28.4 378.1C27.9 378.4 27.5 378.3 27 378.7C26.4 379.2 25.5 380.2 25.2 380.8C25 381.4 25.2 381.9 25.4 382.2Z" fill="#fff" stroke="#000" stroke-width="1"/>
<path d="M25.5 382.2L23.3 382.6" fill="none" stroke="#000" stroke-width="1.1"/>
<path d="M25.5 382.2L25 384.3" fill="none" stroke="#000" stroke-width="1.1"/>
<path d="M31.8 392.4C33.8 390.4 40.4 385.6 44 380.6C47.5 375.7 51.6 365.5 53.1 362.5" fill="none" stroke="#000" stroke-width="1"/>
<path d="M31.8 392.4C34.1 390.4 41.9 385.6 45.8 380.6C49.6 375.7 53.4 365.5 54.9 362.5" fill="none" stroke="#000" stroke-width="1"/>
<path d="M26.8 399C27.2 399.2 27.8 399.3 28.3 399C28.9 398.7 29.8 397.6 30.1 397C30.5 396.5 30.3 396.1 30.6 395.5C30.8 395 31.2 394.2 31.4 393.7C31.7 393.2 32.1 392.9 32.1 392.6C32.1 392.3 31.7 392 31.4 392.1C31.1 392.2 31 392.7 30.6 393.1C30.2 393.5 29.5 394.1 29.1 394.4C28.6 394.8 28.2 394.7 27.7 395.2C27.3 395.8 26.5 396.9 26.4 397.6C26.2 398.2 26.5 398.7 26.8 399Z" fill="#fff" stroke="#000" stroke-width="1"/>
<path d="M26.9 398.9L24.8 399.7" fill="none" stroke="#000" stroke-width="1.1"/>
<path d="M26.9 398.9L26.7 401.1" fill="none" stroke="#000" stroke-width="1.1"/>
<path d="M32.3 408.3C34.4 405.5 41.1 398.4 44.8 391.8C48.4 385.3 52.5 372.8 54.1 369" fill="none" stroke="#000" stroke-width="1"/>
<path d="M32.3 408.3C34.7 405.5 42.6 398.4 46.6 391.8C50.5 385.3 54.3 372.8 55.9 369" fill="none" stroke="#000" stroke-width="1"/>
<path d="M28.2 415.4C28.6 415.6 29.2 415.7 29.7 415.3C30.2 414.9 31 413.7 31.3 413.1C31.6 412.5 31.4 412.1 31.5 411.6C31.7 411 32 410.2 32.2 409.7C32.4 409.2 32.8 408.8 32.7 408.5C32.7 408.2 32.2 407.9 32 408.1C31.7 408.2 31.6 408.7 31.2 409.1C30.9 409.6 30.3 410.2 29.9 410.6C29.5 411.1 29.1 411 28.7 411.6C28.3 412.2 27.7 413.4 27.6 414.1C27.5 414.7 27.9 415.2 28.2 415.4Z" fill="#fff" stroke="#000" stroke-width="1"/>
<path d="M28.3 415.4L26.3 416.4" fill="none" stroke="#000" stroke-width="1.1"/>
<path d="M28.3 415.4L28.4 417.6" fill="none" stroke="#000" stroke-width="1.1"/>
<path d="M33.4 420C35.5 416.8 42.2 408.3 45.8 400.9C49.4 393.5 53.6 379.7 55.1 375.5" fill="none" stroke="#000" stroke-width="1"/>
<path d="M33.4 420C35.8 416.8 43.7 408.3 47.6 400.9C51.5 393.5 55.4 379.7 56.9 375.5" fill="none" stroke="#000" stroke-width="1"/>
<path d="M29.7 427.3C30.1 427.5 30.7 427.5 31.2 427.1C31.7 426.7 32.4 425.5 32.6 424.9C32.9 424.2 32.7 423.9 32.8 423.3C32.9 422.7 33.2 421.9 33.3 421.4C33.5 420.8 33.9 420.4 33.8 420.2C33.8 419.9 33.3 419.6 33 419.8C32.8 419.9 32.7 420.4 32.4 420.9C32.1 421.3 31.5 422 31.1 422.5C30.7 422.9 30.3 422.9 30 423.5C29.6 424.1 29.1 425.4 29 426C29 426.7 29.4 427.1 29.7 427.3Z" fill="#fff" stroke="#000" stroke-width="1"/>
<path d="M29.7 427.3L27.8 428.4" fill="none" stroke="#000" stroke-width="1.1"/>
<path d="M29.7 427.3L30 429.5" fill="none" stroke="#000" stroke-width="1.1"/>
<path d="M36.4 430.5C38.3 427 44.5 417.6 47.8 409.5C51.1 401.4 54.7 386.6 56.1 382" fill="none" stroke="#000" stroke-width="1"/>
<path d="M36.4 430.5C38.6 427 46 417.6 49.6 409.5C53.2 401.4 56.5 386.6 57.9 382" fill="none" stroke="#000" stroke-width="1"/>
<path d="M33.2 438.1C33.5 438.3 34.1 438.3 34.6 437.8C35.1 437.4 35.7 436.1 35.9 435.5C36.1 434.8 35.9 434.5 36 433.9C36 433.3 36.2 432.5 36.4 431.9C36.5 431.4 36.9 431 36.8 430.7C36.7 430.5 36.2 430.2 36 430.4C35.7 430.5 35.7 431 35.4 431.5C35.1 432 34.6 432.7 34.2 433.2C33.9 433.7 33.5 433.7 33.2 434.3C32.8 434.9 32.4 436.2 32.4 436.9C32.4 437.5 32.8 438 33.2 438.1Z" fill="#fff" stroke="#000" stroke-width="1"/>
<path d="M33.2 438.1L31.3 439.3" fill="none" stroke="#000" stroke-width="1.1"/>
<path d="M33.2 438.1L33.6 440.3" fill="none" stroke="#000" stroke-width="1.1"/>
<path d="M39.2 443.5C40.9 439.5 46.7 428.4 49.7 419.2C52.7 410 55.9 393.6 57.1 388.5" fill="none" stroke="#000" stroke-width="1"/>
<path d="M39.2 443.5C41.2 439.5 48.2 428.4 51.5 419.2C54.8 410 57.7 393.6 58.9 388.5" fill="none" stroke="#000" stroke-width="1"/>
<path d="M36.5 451.3C36.9 451.5 37.5 451.4 37.9 450.9C38.4 450.4 38.9 449.2 39.1 448.5C39.3 447.8 39 447.5 39 446.9C39 446.3 39.2 445.5 39.3 444.9C39.4 444.4 39.7 443.9 39.6 443.7C39.5 443.4 39 443.2 38.8 443.4C38.5 443.5 38.5 444.1 38.3 444.6C38 445.1 37.6 445.8 37.3 446.3C36.9 446.8 36.5 446.9 36.2 447.5C36 448.2 35.6 449.5 35.7 450.1C35.7 450.8 36.1 451.2 36.5 451.3Z" fill="#fff" stroke="#000" stroke-width="1"/>
<path d="M36.5 451.3L34.8 452.7" fill="none" stroke="#000" stroke-width="1.1"/>
<path d="M36.5 451.3L37.1 453.4" fill="none" stroke="#000" stroke-width="1.1"/>
<path d="M43.4 455.4C44.9 450.9 49.8 438.5 52.3 428.4C54.7 418.3 57.1 400.6 58.1 395" fill="none" stroke="#000" stroke-width="1"/>
<path d="M43.4 455.4C45.2 450.9 51.3 438.5 54.1 428.4C56.8 418.3 58.9 400.6 59.9 395" fill="none" stroke="#000" stroke-width="1"/>
<path d="M41.3 463.4C41.7 463.5 42.3 463.4 42.7 462.9C43.1 462.4 43.5 461.1 43.6 460.4C43.8 459.7 43.5 459.4 43.5 458.8C43.4 458.2 43.5 457.4 43.6 456.8C43.6 456.3 43.9 455.8 43.8 455.5C43.7 455.3 43.2 455.2 42.9 455.3C42.7 455.5 42.7 456 42.5 456.6C42.3 457.1 42 457.9 41.7 458.4C41.4 458.9 41 459 40.7 459.6C40.5 460.3 40.3 461.7 40.4 462.3C40.5 462.9 40.9 463.3 41.3 463.4Z" fill="#fff" stroke="#000" stroke-width="1"/>
<path d="M41.3 463.3L39.7 464.9" fill="none" stroke="#000" stroke-width="1.1"/>
<path d="M41.3 463.3L42 465.5" fill="none" stroke="#000" stroke-width="1.1"/>
<path d="M50.9 465.3C51.8 460.6 55.2 447.3 56.6 436.6C57.9 426 58.7 407.4 59.1 401.5" fill="none" stroke="#000" stroke-width="1"/>
<path d="M50.9 465.3C52.1 460.6 56.7 447.3 58.4 436.6C60 426 60.5 407.4 60.9 401.5" fill="none" stroke="#000" stroke-width="1"/>
<path d="M49.7 473.5C50.1 473.6 50.7 473.4 51.1 472.8C51.4 472.3 51.7 470.9 51.7 470.2C51.8 469.5 51.4 469.3 51.4 468.7C51.3 468.1 51.3 467.2 51.3 466.7C51.3 466.1 51.5 465.6 51.4 465.4C51.2 465.2 50.7 465.1 50.5 465.3C50.3 465.5 50.3 466 50.2 466.5C50 467.1 49.8 467.9 49.5 468.4C49.3 469 48.9 469.1 48.8 469.8C48.6 470.5 48.5 471.9 48.7 472.5C48.8 473.1 49.3 473.5 49.7 473.5Z" fill="#fff" stroke="#000" stroke-width="1"/>
<path d="M49.8 473.4L48.3 475.1" fill="none" stroke="#000" stroke-width="1.1"/>
<path d="M49.8 473.4L50.7 475.5" fill="none" stroke="#000" stroke-width="1.1"/>
<path d="M60.8 369C60.8 377.9 61.1 404.7 61.1 422.5C61.1 440.3 60.7 467.1 60.6 476" fill="none" stroke="#000" stroke-width="1"/>
<path d="M58.5 372C58.4 380.2 58.4 405 58.1 421.5C57.9 438 57.2 462.8 57 471" fill="none" stroke="#000" stroke-width="1"/>
<path d="M56.5 368C56.3 375 55.9 396 55.4 410C54.9 424 53.8 445 53.5 452" fill="none" stroke="#000" stroke-width="1"/>
<path d="M62.3 366C62.4 371.3 62.9 387.3 62.9 398C63 408.7 62.8 424.7 62.8 430" fill="none" stroke="#000" stroke-width="1"/>
<path d="M55 362C54.6 368.5 53.7 388 52.9 401C52.1 414 50.5 433.5 50 440" fill="none" stroke="#000" stroke-width="1"/>
<path d="M52.6 42.3L66 42.3L66.3 45.5C69 48 74 49.3 80.6 49.3L80.6 50.6C74 51.2 69.5 52.5 66.8 55.5L54.3 55.5C51.5 52.5 47 51.3 40.6 51L40.6 49.8C47 49.6 51 48 52.6 45.5Z" fill="#000" stroke="#000" stroke-width="0.6"/>
<path d="M54.5 55L54.6 61L54.6 67L54.7 73L54.7 79L54.8 85L54.8 91L54.9 97L54.9 103L55 109L55.1 115L55.2 121L55.3 127L55.4 133L55.5 139L55.6 145L55.7 151L55.8 157L55.9 163L56.1 169L56.2 175L56.4 181L56.6 187L56.8 193L57 199L57.1 205L57.3 211L57.4 217L57.6 223L57.8 229L57.9 235L58.1 241L58.2 247L58.3 253L58.3 259L58.2 265L58.2 271L58.2 277L58.2 283L58.2 289L58.1 295L58.1 301L58.1 307L58.1 313L58 319L58 325L58 331L58.2 337L58.3 343L58.4 349L58.6 355L59.4 361L60.7 367L61.3 369L61.3 369L62.4 367L65.3 361L66.8 355L67.6 349L67.6 343L67.5 337L67.5 331L67.3 325L67.1 319L66.9 313L66.7 307L66.5 301L66.3 295L66 289L65.7 283L65.6 277L65.6 271L65.5 265L65.5 259L65.5 253L65.4 247L65.4 241L65.4 235L65.3 229L65.3 223L65.3 217L65.3 211L65.2 205L65.3 199L65.6 193L66 187L66.3 181L66.7 175L67.1 169L67.4 163L67.8 157L68.2 151L68.6 145L69 139L69.6 133L70.1 127L70.5 121L70.7 115L70.8 109L70.4 103L69.9 97L69.2 91L68.6 85L67.9 79L67.3 73L66.9 67L66.4 61L66 55Z" fill="#fff" stroke="#fff" stroke-width="0.1"/>
<path d="M54.5 55C54.5 56 54.5 59 54.6 61C54.6 63 54.6 65 54.6 67C54.6 69 54.6 71 54.7 73C54.7 75 54.7 77 54.7 79C54.7 81 54.8 83 54.8 85C54.8 87 54.8 89 54.8 91C54.8 93 54.9 95 54.9 97C54.9 99 54.9 101 54.9 103C55 105 55 107 55 109C55 111 55 113 55.1 115C55.1 117 55.1 119 55.2 121C55.2 123 55.2 125 55.3 127C55.3 129 55.3 131 55.4 133C55.4 135 55.4 137 55.5 139C55.5 141 55.5 143 55.6 145C55.6 147 55.6 149 55.7 151C55.7 153 55.7 155 55.8 157C55.8 159 55.8 161 55.9 163C55.9 165 56 167 56.1 169C56.1 171 56.2 173 56.2 175C56.3 177 56.4 179 56.4 181C56.5 183 56.5 185 56.6 187C56.7 189 56.7 191 56.8 193C56.9 195 56.9 197 57 199C57 201 57.1 203 57.1 205C57.2 207 57.2 209 57.3 211C57.3 213 57.4 215 57.4 217C57.5 219 57.5 221 57.6 223C57.6 225 57.7 227 57.8 229C57.8 231 57.9 233 57.9 235C58 237 58 239 58.1 241C58.1 243 58.2 245 58.2 247C58.3 249 58.3 251 58.3 253C58.3 255 58.3 257 58.3 259C58.3 261 58.3 263 58.2 265C58.2 267 58.2 269 58.2 271C58.2 273 58.2 275 58.2 277C58.2 279 58.2 281 58.2 283C58.2 285 58.2 287 58.2 289C58.1 291 58.1 293 58.1 295C58.1 297 58.1 299 58.1 301C58.1 303 58.1 305 58.1 307C58.1 309 58.1 311 58.1 313C58.1 315 58 317 58 319C58 321 58 323 58 325C58 327 58 329 58 331C58 333 58.1 335 58.2 337C58.2 339 58.3 341 58.3 343C58.3 345 58.4 347 58.4 349C58.5 351 58.4 353 58.6 355C58.7 357 59 359 59.4 361C59.7 363 60.4 365.7 60.7 367C61 368.3 61.2 368.7 61.3 369" fill="none" stroke="#000" stroke-width="1.3"/>
<path d="M66 55C66.1 56 66.3 59 66.4 61C66.6 63 66.7 65 66.9 67C67 69 67.2 71 67.3 73C67.5 75 67.7 77 67.9 79C68.2 81 68.4 83 68.6 85C68.8 87 69 89 69.2 91C69.5 93 69.7 95 69.9 97C70.1 99 70.2 101 70.4 103C70.5 105 70.7 107 70.8 109C70.8 111 70.8 113 70.7 115C70.7 117 70.6 119 70.5 121C70.4 123 70.2 125 70.1 127C69.9 129 69.7 131 69.6 133C69.4 135 69.2 137 69 139C68.9 141 68.7 143 68.6 145C68.4 147 68.3 149 68.2 151C68.1 153 67.9 155 67.8 157C67.7 159 67.6 161 67.4 163C67.3 165 67.2 167 67.1 169C66.9 171 66.8 173 66.7 175C66.6 177 66.5 179 66.3 181C66.2 183 66.1 185 66 187C65.9 189 65.7 191 65.6 193C65.5 195 65.3 197 65.3 199C65.2 201 65.2 203 65.2 205C65.2 207 65.2 209 65.3 211C65.3 213 65.3 215 65.3 217C65.3 219 65.3 221 65.3 223C65.3 225 65.3 227 65.3 229C65.4 231 65.4 233 65.4 235C65.4 237 65.4 239 65.4 241C65.4 243 65.4 245 65.4 247C65.4 249 65.5 251 65.5 253C65.5 255 65.5 257 65.5 259C65.5 261 65.5 263 65.5 265C65.5 267 65.5 269 65.6 271C65.6 273 65.6 275 65.6 277C65.6 279 65.7 281 65.7 283C65.8 285 65.9 287 66 289C66.1 291 66.2 293 66.3 295C66.4 297 66.5 299 66.5 301C66.6 303 66.7 305 66.7 307C66.8 309 66.9 311 66.9 313C67 315 67.1 317 67.1 319C67.2 321 67.3 323 67.3 325C67.4 327 67.5 329 67.5 331C67.5 333 67.5 335 67.5 337C67.5 339 67.6 341 67.6 343C67.6 345 67.7 347 67.6 349C67.5 351 67.2 353 66.8 355C66.4 357 66 359 65.3 361C64.5 363 63 365.7 62.4 367C61.7 368.3 61.5 368.7 61.3 369" fill="none" stroke="#000" stroke-width="1.2"/>
<path d="M57.9 56C57.9 58 58 64 58 68C58.1 72 58.1 76 58.1 80C58.2 84 58.2 88 58.2 92C58.3 96 58.3 100 58.3 104C58.4 108 58.4 112 58.5 116C58.6 120 58.6 124 58.7 128C58.8 132 58.8 136 58.9 140C58.9 144 59 148 59.1 152C59.1 156 59.2 160 59.3 164C59.4 168 59.6 172 59.7 176C59.8 180 59.9 184 60 188C60.2 192 60.3 196 60.4 200C60.5 204 60.6 208 60.7 212C60.8 216 60.9 220 61 224C61.1 228 61.2 232 61.3 236C61.4 240 61.6 244 61.6 248C61.7 252 61.7 256 61.7 260C61.7 264 61.6 268 61.6 272C61.6 276 61.6 280 61.6 284C61.6 288 61.5 292 61.5 296C61.5 300 61.5 304 61.5 308C61.5 312 61.4 316 61.4 320C61.4 324 61.4 328 61.4 332C61.5 336 61.6 340 61.7 344C61.8 348 62.2 352.3 62 356C61.8 359.7 60.8 364.3 60.6 366" fill="none" stroke="#000" stroke-width="1"/>
<path d="M61.7 56C61.8 58 62.1 64 62.3 68C62.5 72 62.7 76 63 80C63.2 84 63.6 88 63.8 92C64.1 96 64.4 100 64.5 104C64.7 108 64.8 112 64.8 116C64.7 120 64.5 124 64.4 128C64.2 132 64 136 63.8 140C63.7 144 63.5 148 63.4 152C63.3 156 63.1 160 63 164C62.9 168 62.8 172 62.7 176C62.6 180 62.5 184 62.4 188C62.3 192 62.1 196 62.1 200C62.1 204 62.2 208 62.2 212C62.3 216 62.3 220 62.4 224C62.4 228 62.5 232 62.6 236C62.6 240 62.7 244 62.7 248C62.7 252 62.7 256 62.7 260C62.8 264 62.7 268 62.8 272C62.8 276 62.8 280 62.9 284C63 288 63.1 292 63.2 296C63.3 300 63.4 304 63.5 308C63.5 312 63.6 316 63.7 320C63.8 324 63.9 328 63.9 332C64 336 64 342 64.1 344" fill="none" stroke="#000" stroke-width="0.8" stroke-dasharray="6 2 2 2"/>
<path d="M59.9 60C59.9 62 60.1 68 60.3 72C60.5 76 60.7 80 60.9 84C61.1 88 61.4 92 61.6 96C61.8 100 62 104 62.1 108C62.1 112 62.1 116 62.1 120C62 124 61.9 128 61.8 132C61.7 136 61.5 140 61.4 144C61.3 148 61.3 152 61.2 156C61.1 160 61.1 164 61 168C61 172 60.9 176 60.9 180C60.9 184 60.8 188 60.8 192C60.8 196 60.7 200 60.8 204C60.8 208 60.9 212 61 216C61 220 61.1 224 61.2 228C61.2 232 61.3 236 61.4 240C61.4 244 61.5 248 61.5 252C61.5 256 61.5 260 61.5 264C61.5 268 61.5 272 61.5 276C61.5 280 61.6 286 61.7 288" fill="none" stroke="#8a8a8a" stroke-width="2.3"/>
<path d="M56.2 42.6L56.2 56M59.6 42.6L59.6 56M63.3 42.6L63.5 56" stroke="#fff" stroke-width="1.1" fill="none"/>
<path d="M229 178C229.8 177.4 232.7 176.1 234 174.5C235.3 172.9 237 170.5 237 168.5C237 166.5 235.8 163.9 234 162.5C232.2 161.1 228.8 160.1 226 160C223.2 159.9 221 160.8 217.5 162C214 163.2 209.3 165.8 205 167.5C200.7 169.2 193.8 171.7 191.5 172.5" fill="none" stroke="#000" stroke-width="2" />
<path d="M191.5 172.8L188.8 159.2" fill="none" stroke="#000" stroke-width="2" />
<path d="M188.8 159.2C191.1 158 197.7 154.2 202.5 152.3C207.3 150.4 212.9 148.8 217.5 148C222.1 147.2 226.2 147.3 230 147.6C233.8 147.9 237.1 148.7 240 149.6C242.9 150.5 244.8 153 247.5 152.8C250.2 152.6 253.1 150.1 256 148.6C258.9 147.1 260.6 145.7 265 143.8C269.4 141.9 277.5 138.7 282.5 137C287.5 135.3 290.4 134.6 295 133.8C299.6 133 305 133 310 132.2C315 131.4 320.5 129.8 325 129C329.5 128.2 334.2 127.4 337 127.3C339.8 127.2 340 128.7 341.5 128.5C343 128.3 342.9 126.7 346 126.3C349.1 125.9 356 125.6 360 126C364 126.4 367.3 127.3 370 128.6C372.7 129.9 374.2 133.3 376.3 133.6C378.4 133.9 379.4 131.2 382.5 130.6C385.6 130 390.4 129.5 395 130C399.6 130.5 405.8 132.2 410 133.5C414.2 134.8 417.5 136.4 420 137.5C422.5 138.6 423.2 140.1 425 139.8C426.8 139.6 428.9 137.3 431 136C433.1 134.7 434.3 133.2 437.5 132C440.7 130.8 445.4 129.4 450 128.8C454.6 128.2 459.8 128.6 465 128.6C470.2 128.6 478.3 128.6 481 128.6" fill="none" stroke="#000" stroke-width="1.6" />
<path d="M481 128.6C481.4 129 483.1 129.8 483.6 131C484.1 132.2 484 133.9 483.8 136C483.6 138.1 482.7 142.5 482.5 143.8" fill="none" stroke="#000" stroke-width="1.6" />
<path d="M482.5 143.8C479.6 143.9 470.4 144.3 465 144.5C459.6 144.7 453.7 144.3 450 145C446.3 145.7 444.5 147.1 443 148.5C441.5 149.9 440.9 152.1 441.2 153.5C441.5 154.9 442.5 156.1 445 157C447.5 157.9 453.1 157.9 456 158.8C458.9 159.7 461.4 161.9 462.5 162.5" fill="none" stroke="#000" stroke-width="1.6" />
<path d="M462.5 162.5C465.8 163.8 475.4 166.7 482.5 170C489.6 173.3 497.9 177.9 505 182.5C512.1 187.1 519.2 192 525 197.5C530.8 203 536.5 210.5 540 215.5C543.5 220.5 544.1 223.4 546.3 227.5C548.5 231.6 551.3 235.8 553 240C554.7 244.2 555.9 247.5 556.5 252.5C557.1 257.5 557.6 263.8 556.8 270C556 276.2 553.9 283.8 551.5 290C549.1 296.2 546.1 301.7 542.5 307.5C538.9 313.3 534.6 319.6 530 325C525.4 330.4 520 335.4 515 340C510 344.6 506 348.7 500 352.5C494 356.3 485.9 360.1 478.8 363C471.7 365.9 464.8 368.2 457.5 370C450.2 371.8 442.1 373 435 373.8C427.9 374.6 421.7 374.8 415 375C408.3 375.2 400.8 375.4 395 375C389.2 374.6 384.1 373.9 380.5 372.6C376.9 371.3 375.2 368.9 373.2 367C371.1 365.1 369 362.4 368.2 361.5" fill="none" stroke="#000" stroke-width="1.6" />
<path d="M229 178C226.2 179.2 218.2 183.1 212.5 185.5C206.8 187.9 200.4 189.4 195 192.5C189.6 195.6 184.6 199.8 180 203.8C175.4 207.8 171.7 212.6 167.5 216.3C163.3 220.1 158.4 223.2 155 226.3C151.6 229.4 149.5 231.9 147 235C144.5 238.1 142.4 240.8 140 245C137.6 249.2 134 255.8 132.5 260C131 264.2 131 265.4 131.2 270C131.4 274.6 131.9 281.2 133.8 287.5C135.7 293.8 139 301.7 142.5 307.5C146 313.3 151.4 319 155 322.5C158.6 326 162 326.8 164 328.5C166 330.2 163.5 329.3 167 332.5C170.5 335.7 177.8 342.1 185 347.5C192.2 352.9 201.7 360.2 210 365C218.3 369.8 226.7 373.6 235 376.3C243.3 379 252.5 380.2 260 381.3C267.5 382.4 274.2 382.7 280 383C285.8 383.3 291 383.4 295 383.3C299 383.2 300.6 383 304.2 382.6C307.8 382.2 314.4 381.1 316.4 380.8" fill="none" stroke="#000" stroke-width="2" />
<path d="M316.4 380.8C317.9 380.1 323.1 378.5 325.5 376.5C327.9 374.5 329.6 371.6 331 369C332.4 366.4 333.2 364.1 334 361C334.8 357.9 336 353.5 336 350.5C336 347.5 334.5 346 333.9 342.9C333.3 339.8 332.2 335.5 332.2 332C332.2 328.5 333.4 325.2 334 322C334.6 318.8 335.3 316.7 336 313C336.7 309.3 337.4 304.2 338 300C338.6 295.8 339.4 290 339.7 288" fill="none" stroke="#000" stroke-width="1.5" />
<path d="M350.8 288C349.7 289.7 345.7 294.3 344.2 298.2C342.7 302.1 342.4 307.2 341.6 311.2C340.8 315.2 340.1 319 339.5 322C338.9 325 338 326.2 338 329.2C338 332.2 338.7 336.2 339.3 339.8C339.9 343.4 340.3 347.4 341.6 350.5C342.9 353.6 344.5 356 346.9 358.2C349.3 360.4 353.3 362.6 356.1 363.5C358.9 364.4 361.7 363.8 363.7 363.5C365.7 363.2 367.4 361.8 368.2 361.5" fill="none" stroke="#000" stroke-width="1.5" />
<path d="M332.6 283.8C333.8 283.1 338.8 283.2 341 282.8C343.2 282.4 344.6 282.2 346 281.6C347.4 281 348.3 279.3 349.5 279.3C350.7 279.3 351.2 281.1 353 281.7C354.8 282.3 357.3 282.4 360 282.8C362.7 283.2 367.8 283.3 369 284C370.2 284.7 369.5 286.4 367.5 286.8C365.5 287.2 359.7 286.5 357 286.6C354.3 286.7 353.5 287.3 351.5 287.6C349.5 287.9 347.1 288.3 345 288.2C342.9 288.1 340.8 287 339 286.8C337.2 286.6 335.1 287.3 334 286.8C332.9 286.3 331.4 284.5 332.6 283.8Z" fill="#fff" stroke="#000" stroke-width="1.3" />
<path d="M240.5 196.3C241.9 195.5 243.5 195.6 245 195.8C246.5 196 248.2 196.4 249.7 197.5C251.2 198.6 251.6 200.9 253.8 202.6C256 204.3 259.8 206.3 263 207.7C266.2 209 270.6 209.2 273.1 210.7C275.6 212.2 277 214.4 278.2 216.8C279.4 219.2 278.9 221.9 280.3 225C281.7 228.1 284.2 231.8 286.4 235.2C288.6 238.6 291 242 293.5 245.4C296 248.8 299 252.6 301.6 255.5C304.2 258.4 306.8 261 309.2 263C311.6 265 313.6 266.2 316 267.3C318.4 268.4 321.3 269.1 323.8 269.4C326.3 269.7 328.6 269.4 331 269C333.4 268.6 335.9 267.9 338 267.3C340.1 266.7 342.1 265.9 343.5 265.3C344.9 264.7 345.6 263.7 346.7 263.7C347.8 263.7 348.3 264.6 350 265.3C351.7 266 354.5 267.1 356.8 267.7C359.1 268.3 361.6 268.9 364 269.2C366.4 269.5 368.9 269.7 371.4 269.4C373.9 269.1 376.6 268.3 379 267.2C381.4 266.1 383.9 264.7 386 263C388.1 261.3 389.4 259.3 391.5 257C393.6 254.7 396.3 252.7 398.3 249.4C400.3 246.1 402 241.6 403.4 237.2C404.8 232.8 406 227.1 406.5 223C407 218.9 405.8 215.7 406.5 212.8C407.2 209.9 408.5 207.3 410.5 205.6C412.5 203.9 415.6 203.8 418.7 202.6C421.8 201.4 426 200.2 428.9 198.5C431.8 196.8 433.6 193.8 436 192.4C438.4 191.1 440.9 190.2 443.1 190.4C445.3 190.6 447.7 191.7 449.2 193.4C450.7 195.1 451.9 197.6 452.3 200.5C452.7 203.4 452.5 206.9 451.3 210.7C450.1 214.4 446.7 218.6 445.2 223C443.7 227.4 442.8 232.4 442.1 237.2C441.4 241.9 440.9 247.4 441.1 251.5C441.3 255.6 441.6 258.9 443.1 261.6C444.6 264.3 445.5 266.1 450 267.5C454.5 268.9 462.9 269.2 470 270C477.1 270.8 487.2 271.4 492.5 272.5C497.8 273.6 499.8 274.9 501.5 276.5C503.2 278.1 503.2 279.3 502.5 282C501.8 284.7 500.8 288.7 497.5 292.5C494.2 296.3 488.3 300.4 482.5 305C476.7 309.6 468.8 316 462.5 320C456.2 324 451.2 326.9 445 328.8C438.8 330.7 430.8 331.1 425 331.3C419.2 331.5 414.6 330.6 410 330C405.4 329.4 400.4 329.1 397.6 327.4C394.9 325.7 394.3 323.7 393.5 320C392.7 316.3 393.2 309.2 393 305C392.8 300.8 393.1 298 392.5 295C391.9 292 392 289.2 389.7 286.8C387.4 284.4 383.1 282.1 378.8 280.4C374.5 278.7 369 277.5 364.1 276.7C359.2 275.9 354.1 275.5 349.5 275.4C344.9 275.2 340.9 275.4 336.6 275.8C332.3 276.2 328.1 276.8 323.8 278C319.5 279.2 314 281 311 283.1C308 285.2 306.8 287 305.8 290.4C304.8 293.8 305.2 298.4 305.1 303.3C305.1 308.2 305.7 315.3 305.5 320C305.3 324.7 305.6 328.6 304 331.5C302.4 334.4 301.6 336.2 296 337.3C290.4 338.4 277.6 338.4 270.7 338C263.8 337.6 259.3 336.4 254.4 334.7C249.5 333 245.5 330.4 241.4 328C237.3 325.6 234.4 323 230 320C225.6 317 219.7 313.1 215 310C210.3 306.9 204.8 303.8 202 301.5C199.2 299.2 198.7 297.8 198.5 296C198.3 294.2 198.8 292.6 201 290.5C203.2 288.4 206.8 285.6 212 283.5C217.2 281.4 226.3 279.8 232 278C237.7 276.2 242.6 274.8 246 273C249.4 271.2 251.2 269.2 252.5 267C253.8 264.8 253.6 262.2 253.8 260C254 257.8 254.5 256.3 253.8 253.5C253.1 250.7 251.6 246.7 249.7 243.3C247.8 239.9 244.6 236.4 242.6 233C240.6 229.6 238.6 226.7 237.5 223C236.4 219.3 236.2 214.4 236 210.7C235.8 206.9 235.8 202.9 236.5 200.5C237.2 198.1 239.1 197.1 240.5 196.3Z" fill="#000" stroke="#000" stroke-width="0.6" />
<path d="M229 178C229.5 179.3 230.8 183.6 232 186C233.2 188.4 236.3 190.8 236.5 192.4C236.7 194 234.2 193.5 233.4 195.5C232.6 197.5 231.7 201.4 231.4 204.6C231.1 207.8 230.9 211.4 231.4 214.8C231.9 218.2 233.1 221.6 234.4 225C235.8 228.4 238.4 231.8 239.5 235.2C240.6 238.6 241 242 240.8 245.4C240.6 248.8 239.9 252.1 238.5 255.5C237.1 258.9 235.2 263.1 232.4 265.7C229.7 268.3 225.3 269.9 222 271C218.7 272.1 214.1 272.2 212.5 272.5" fill="none" stroke="#000" stroke-width="1.2" />
<path d="M237 168.5C237.8 170.4 240.4 176.8 242 180C243.6 183.2 245.4 185.7 246.7 188C247.9 190.3 248.3 192.4 249.5 194C250.7 195.6 251.2 196.4 253.8 197.5C256.4 198.6 261.4 199.2 265 200.5C268.6 201.8 272.1 203.4 275.2 205.6C278.2 207.8 281.1 210.6 283.3 213.8C285.5 217 286.4 221.1 288.4 225C290.4 228.9 292.9 233.4 295.5 237.2C298.1 240.9 301.1 244.7 303.7 247.5C306.3 250.3 307.6 251.7 311 253.8C314.4 255.9 319.5 259.6 323.8 260.2C328.1 260.8 333.1 258.7 336.6 257.5C340.1 256.3 343.5 253.7 344.9 252.9" fill="none" stroke="#000" stroke-width="1.2" />
<path d="M445 157C444.4 159.2 442.8 166.2 441.5 170C440.2 173.8 438.4 177.3 437.5 180C436.6 182.7 436.9 184.2 436 186.3C435.1 188.4 434.6 191.1 432 192.4C429.4 193.8 424.6 193.2 420.7 194.4C416.8 195.6 411.9 197.1 408.5 199.5C405.1 201.9 402.3 205.1 400.4 208.7C398.5 212.3 398.7 216.2 397.3 221C395.9 225.8 393.2 232.6 392.2 237.2C391.1 241.8 392 245.7 391 248.5C390 251.3 388.9 251.9 386 253.8C383.1 255.8 377.9 259.4 373.3 260.2C368.7 261 362.7 259.5 358.6 258.4C354.5 257.3 350.2 254.6 348.5 253.8" fill="none" stroke="#000" stroke-width="1.2" />
<path d="M462.5 162.5C461.1 164 455.7 168.4 453.8 171.3C451.9 174.2 451.6 177.2 451 180C450.4 182.8 449.8 186.2 450.3 188.3C450.9 190.4 453.2 190.4 454.3 192.4C455.4 194.4 456.8 197.4 457 200.5C457.2 203.6 456.5 207.3 455.4 210.7C454.3 214.1 451.5 217.6 450.3 221C449.1 224.4 448.2 227.6 448.2 231C448.2 234.4 448.8 237.9 450.3 241.3C451.8 244.7 454.2 248.8 457.4 251.5C460.6 254.2 465.4 255.9 469.6 257.6C473.8 259.4 476.6 261.3 482.5 262C488.4 262.7 497.9 262.9 505 262C512.1 261.1 519.2 258.4 525 256.5C530.8 254.6 537.5 251.5 540 250.5" fill="none" stroke="#000" stroke-width="1.2" />
<path d="M229 178C229.5 179.3 230.8 183.6 232 186C233.2 188.4 235.8 191.3 236.5 192.4" fill="none" stroke="#000" stroke-width="1.8" />
<path d="M237 168.5C237.8 170.4 240.4 176.8 242 180C243.6 183.2 245.4 185.7 246.7 188C247.9 190.3 249 193 249.5 194" fill="none" stroke="#000" stroke-width="1.8" />
<path d="M445 157C444.4 159.2 442.8 166.2 441.5 170C440.2 173.8 438.4 177.3 437.5 180C436.6 182.7 436.2 185.2 436 186.3" fill="none" stroke="#000" stroke-width="1.4" />
<path d="M462.5 162.5C461.1 164 455.7 168.4 453.8 171.3C451.9 174.2 451.6 177.2 451 180C450.4 182.8 450.4 186.9 450.3 188.3" fill="none" stroke="#000" stroke-width="1.4" />
<path d="M341.5 128.5C341.7 133.8 342.1 148.1 342.5 160C342.9 171.9 343.6 183.4 344 200C344.4 216.6 344.8 249.6 344.9 259.5" fill="none" stroke="#000" stroke-width="1.2" />
<path d="M310 132.2C309.6 134.3 307.7 140.8 307.3 145C306.9 149.2 306.4 150.8 307.5 157.5C308.6 164.2 310.5 175.4 313.8 185C317.1 194.6 323.5 207.6 327.5 215C331.5 222.4 335.1 225.6 338 229.5C340.9 233.4 343.8 236.8 344.9 238.2" fill="none" stroke="#000" stroke-width="1.2" />
<path d="M376.3 133.6C376 136.3 374.9 144.8 374.5 150C374.1 155.2 375 156.7 373.8 165C372.6 173.3 370.2 190.5 367.5 200C364.8 209.5 359.8 217 357.5 222C355.2 227 355.6 227.3 354 230C352.4 232.7 349 236.8 348 238.2" fill="none" stroke="#000" stroke-width="1.2" />
<path d="M235 190C234.4 190 233.9 189.2 231.4 189.8C228.9 190.4 223.8 191.6 220.2 193.4C216.6 195.2 214.6 197.9 210 200.5C205.4 203.1 198.3 204.7 192.5 208.8C186.7 212.9 178.8 221.5 175 225C171.2 228.5 172.9 226.7 170 230C167.1 233.3 161.2 240 157.5 245C153.8 250 149.6 255.8 147.5 260C145.4 264.2 145 265.8 145 270C145 274.2 145.4 279.6 147.5 285C149.6 290.4 153.3 296.7 157.5 302.5C161.7 308.3 166.7 314.2 172.5 320C178.3 325.8 186.4 332.7 192.5 337.5C198.6 342.3 204.8 346.3 209 349C213.2 351.7 215.5 352 217.5 353.8C219.5 355.6 220.3 357.4 221 360C221.7 362.6 221.4 367.9 221.5 369.5" fill="none" stroke="#000" stroke-width="1.2" />
<line x1="131.2" y1="269.5" x2="145" y2="269.5" stroke="#000" stroke-width="1"/>
<path d="M453.8 171.3C457.3 172.3 467.3 174 475 177.5C482.7 181 492.5 187.1 500 192.5C507.5 197.9 514.7 204.1 520 210C525.3 215.9 528.9 222.9 532 228C535.1 233.1 536.9 236.2 538.5 240.5C540.1 244.8 541.2 248.7 541.5 254C541.8 259.3 541.2 266.8 540 272.5C538.8 278.2 535 285.4 534 288" fill="none" stroke="#000" stroke-width="1.2" />
<path d="M541.5 254C542.8 253.7 546.5 252.7 549 252C551.5 251.3 555.1 250.3 556.3 250" fill="none" stroke="#000" stroke-width="1.2" />
<ellipse cx="179.5" cy="268" rx="34.5" ry="11.3" transform="rotate(5 179.5 268)" fill="none" stroke="#000" stroke-width="1.2"/>
<ellipse cx="513.8" cy="260.2" rx="27.5" ry="9.4" transform="rotate(-6 513.8 260.2)" fill="none" stroke="#000" stroke-width="1.2"/>
<path d="M163 290.5C164.2 288.8 167.5 287.6 170 287.8C172.5 288.1 174.7 289.5 178 292C181.3 294.5 185.1 298.8 190 303C194.9 307.2 202.2 313.2 207.5 317.5C212.8 321.8 217.2 325.8 222 329C226.8 332.2 232.6 334.8 236 337C239.4 339.2 241.5 340.1 242.5 342C243.5 343.9 243.1 346.8 242 348.5C240.9 350.2 238.3 351.9 236 352.5C233.7 353.1 231.9 353.2 228 352C224.1 350.8 218 348 212.5 345C207 342 200.4 338 195 334C189.6 330 184.2 325.2 180 321C175.8 316.8 172.8 312.8 170 309C167.2 305.2 164.2 301.1 163 298C161.8 294.9 161.8 292.2 163 290.5Z" fill="none" stroke="#000" stroke-width="1.2" />
<path d="M525 278.5C527.2 278.8 529.7 279.9 531 281.5C532.3 283.1 533.6 284.9 533 288C532.4 291.1 530.5 295.1 527.5 300C524.5 304.9 519.6 312.1 515 317.5C510.4 322.9 505 328.3 500 332.5C495 336.7 489.3 340.2 485 342.5C480.7 344.8 477.2 345.8 474 346C470.8 346.2 467.9 345.3 466 343.8C464.1 342.3 462.2 339.7 462.5 337C462.8 334.3 464.2 331.2 467.5 327.5C470.8 323.8 477.1 320 482.5 315C487.9 310 495.1 302.8 500 297.5C504.9 292.2 509 286.5 512 283.5C515 280.5 515.8 280.3 518 279.5C520.2 278.7 522.8 278.2 525 278.5Z" fill="none" stroke="#000" stroke-width="1.2" />
<path d="M473.8 346C473.7 347.3 472.2 351.2 473 354C473.8 356.8 477.8 361.1 478.8 362.5" fill="none" stroke="#000" stroke-width="1.2" />
<path d="M235 350C234.8 351.7 234.6 356.3 234 360C233.4 363.7 231.9 370 231.5 372" fill="none" stroke="#000" stroke-width="1.2" />
<ellipse cx="277.2" cy="361.3" rx="30.3" ry="10.4" transform="rotate(3 277.2 361.3)" fill="none" stroke="#000" stroke-width="1.2"/>
<path d="M245.8 377.5C247 376.2 249.8 371.6 253 369.5C256.2 367.4 260.7 366.1 265 365C269.3 363.9 274 363.2 279 363.2C284 363.2 290.3 363.9 295 365C299.7 366.1 303.5 367.6 307 370C310.5 372.4 314.5 377.9 316 379.5" fill="none" stroke="#000" stroke-width="1.2" />
<ellipse cx="421.2" cy="350.6" rx="34.8" ry="10.3" transform="rotate(-6 421.2 350.6)" fill="none" stroke="#000" stroke-width="1.2"/>
<path d="M380.5 373C379.8 372.7 377.4 372.1 376.5 371.3C375.6 370.6 375.1 369.8 375.3 368.5C375.6 367.2 376.2 364.9 378 363.5C379.8 362.1 382.3 360.9 386 360C389.7 359.1 395.2 358.4 400 358C404.8 357.6 409.7 357.4 415 357.5C420.3 357.6 426.8 357.9 432 358.5C437.2 359.1 442 360 446 361C450 362 453.1 363.2 456 364.5C458.9 365.8 462.2 368.1 463.5 368.8" fill="none" stroke="#000" stroke-width="1.2" />
<ellipse cx="318.1" cy="304.7" rx="7.3" ry="13.7" transform="rotate(10 318.1 304.7)" fill="none" stroke="#000" stroke-width="1.2"/>
<line x1="311.3" y1="303.4" x2="324.6" y2="305.4" stroke="#000" stroke-width="0.9"/>
<ellipse cx="365.8" cy="304.5" rx="7.1" ry="13.5" transform="rotate(-8 365.8 304.5)" fill="none" stroke="#000" stroke-width="1.2"/>
<line x1="358.8" y1="305.4" x2="372.8" y2="305.4" stroke="#000" stroke-width="0.9"/>
<path d="M332.8 287.3C332.3 288.2 331.3 290.1 329.9 293C328.5 295.9 326.4 299.9 324.6 304.7C322.9 309.5 320.8 316.3 319.4 321.7C318 327.1 317 330.9 316.5 337C316 343.1 316.2 351.1 316.4 358.2C316.6 365.3 317.6 376.2 317.9 379.8" fill="none" stroke="#000" stroke-width="1.2" />
<path d="M337.7 288.4C336.9 290 334.7 294.4 333.1 298.2C331.5 302 329.2 306.8 327.9 311.2C326.6 315.6 325.8 320.3 325.5 324.3C325.2 328.3 325.7 330.9 326.3 335.3C326.9 339.7 328.5 345.7 329.4 350.5C330.3 355.3 331.2 362 331.6 364.3" fill="none" stroke="#000" stroke-width="1.2" />
<path d="M344.4 297.3C345 297.9 347.3 298.7 348.2 301C349.1 303.3 349.4 307.7 349.5 311.2C349.6 314.7 349.1 318 348.8 322C348.5 326 348.4 330.6 347.7 335.3C347 340 345.5 346.9 344.8 350C344.1 353.1 343.6 353.2 343.3 353.8" fill="none" stroke="#000" stroke-width="1.2" />
<path d="M355.2 288C355.6 290.8 356.6 299.7 357.3 304.7C358 309.7 358.6 312.8 359.3 317.8C360 322.9 360.1 329.6 361.3 335C362.6 340.4 365.7 346.1 366.8 350.5C367.9 354.9 368 359.7 368.2 361.5" fill="none" stroke="#000" stroke-width="1.2" />
<path d="M273.2 337.5C272.2 340.6 270.4 349.8 267.5 355.8C264.6 361.8 259.5 368.9 256 373.7C252.5 378.4 247.9 382.5 246.3 384.3" fill="none" stroke="#000" stroke-width="2.2" />
<path d="M287 336.3C286.2 339.3 284.8 348 282.1 354.2C279.4 360.4 274.2 368.6 270.7 373.7C267.2 378.8 262.6 383.1 261 385" fill="none" stroke="#000" stroke-width="2.2" />
<path d="M292.7 336.3C291.9 339.6 290.4 349.6 287.8 355.8C285.2 362 280.7 368.7 277.2 373.7C273.7 378.7 268.4 383.9 266.6 386" fill="none" stroke="#000" stroke-width="2.2" />
<path d="M298.4 336.3C297.7 339.6 296.8 349.3 294.3 355.8C291.9 362.3 287.1 370 283.7 375.4C280.3 380.8 275.6 386.2 274 388.4" fill="none" stroke="#000" stroke-width="2.2" />
<line x1="246.4" y1="385.5" x2="258" y2="398.3" stroke="#000" stroke-width="0.9"/>
<line x1="275.6" y1="388" x2="258" y2="398.3" stroke="#000" stroke-width="0.9"/>
<line x1="115.3" y1="147.5" x2="175" y2="197" stroke="#000" stroke-width="1.5"/>
<line x1="21.8" y1="142.6" x2="83" y2="142.6" stroke="#000" stroke-width="1.4"/>
<line x1="186" y1="97.5" x2="222.5" y2="154" stroke="#000" stroke-width="1"/>
<circle cx="222.5" cy="154" r="1.1" fill="#000"/>
<line x1="300.6" y1="61" x2="342" y2="128" stroke="#000" stroke-width="1"/>
<line x1="348.2" y1="61" x2="348.2" y2="264.5" stroke="#000" stroke-width="1"/>
<circle cx="349" cy="277.3" r="1" fill="#000"/>
<line x1="368" y1="67.5" x2="357.5" y2="160.5" stroke="#000" stroke-width="1"/>
<circle cx="357.5" cy="160.5" r="1.1" fill="#000"/>
<line x1="404" y1="95" x2="383" y2="182.5" stroke="#000" stroke-width="1"/>
<circle cx="383" cy="182.5" r="1.1" fill="#000"/>
<line x1="436.5" y1="115" x2="425" y2="139.5" stroke="#000" stroke-width="1"/>
<line x1="425" y1="139.5" x2="375.5" y2="262" stroke="#000" stroke-width="1"/>
<circle cx="375.5" cy="262" r="1.1" fill="#000"/>
<line x1="498.5" y1="151.4" x2="482.8" y2="175.6" stroke="#000" stroke-width="1"/>
<circle cx="482.8" cy="175.6" r="1.1" fill="#000"/>
<line x1="551.2" y1="178.5" x2="484.3" y2="223.5" stroke="#000" stroke-width="1"/>
<circle cx="484.3" cy="223.5" r="1.1" fill="#000"/>
<line x1="575.5" y1="204.3" x2="502.8" y2="256.3" stroke="#000" stroke-width="1"/>
<circle cx="502.8" cy="256.3" r="1.1" fill="#000"/>
<line x1="521.6" y1="244.5" x2="515.6" y2="264.5" stroke="#000" stroke-width="1"/>
<circle cx="515.6" cy="264.5" r="1.1" fill="#000"/>
<line x1="568" y1="269.5" x2="547.2" y2="269.5" stroke="#000" stroke-width="1"/>
<circle cx="547.2" cy="269.5" r="1.1" fill="#000"/>
<line x1="567" y1="300.3" x2="513.3" y2="300.3" stroke="#000" stroke-width="1"/>
<circle cx="513.3" cy="300.3" r="1.1" fill="#000"/>
<line x1="545.5" y1="377.4" x2="492" y2="377.4" stroke="#000" stroke-width="1"/>
<line x1="492" y1="377.4" x2="442.4" y2="346.3" stroke="#000" stroke-width="1"/>
<line x1="492" y1="377.4" x2="431.9" y2="357.5" stroke="#000" stroke-width="1"/>
<circle cx="442.4" cy="346.3" r="1.1" fill="#000"/>
<circle cx="431.9" cy="357.5" r="1.1" fill="#000"/>
<line x1="414.5" y1="358.8" x2="414.5" y2="391.8" stroke="#000" stroke-width="1"/>
<circle cx="414.5" cy="358.8" r="1.1" fill="#000"/>
<line x1="398.8" y1="366" x2="414.5" y2="380" stroke="#000" stroke-width="1"/>
<circle cx="398.8" cy="366" r="1.1" fill="#000"/>
<line x1="363" y1="295.3" x2="408" y2="410" stroke="#000" stroke-width="1"/>
<circle cx="363" cy="295.3" r="1.1" fill="#000"/>
<line x1="363.9" y1="310.6" x2="400.6" y2="427" stroke="#000" stroke-width="1"/>
<circle cx="363.9" cy="310.6" r="1.1" fill="#000"/>
<line x1="356.1" y1="349" x2="376.3" y2="445" stroke="#000" stroke-width="1"/>
<circle cx="356.1" cy="349" r="1.1" fill="#000"/>
<line x1="338.2" y1="351.3" x2="338.2" y2="445" stroke="#000" stroke-width="1"/>
<circle cx="338.2" cy="351.3" r="1.1" fill="#000"/>
<line x1="148.9" y1="329.3" x2="215.6" y2="312" stroke="#000" stroke-width="1"/>
<line x1="171.4" y1="375" x2="243.8" y2="336.8" stroke="#000" stroke-width="1"/>
</g>
<g fill="#000">
<text x="175.5" y="34.3" class="ti" font-size="20.5">ПРОВОДЯЩИЕ ПУТИ СПИННОГО МОЗГА</text>
<text x="91.5" y="149.6" class="c8" font-size="16.5">C8</text>
<text x="311.5" y="45.5" class="lb" font-size="8">Передняя комиссура</text>
<text x="232.5" y="59.8" class="lb" font-size="8">Sulcus mediana posterior</text>
<text x="127.5" y="96.3" class="lb" font-size="8">Задние корешки</text>
<text x="368" y="65.3" class="lb" font-size="8">Пучок Голля (нежный)</text>
<text x="407.5" y="83.8" class="lb" font-size="8">Пучок Бурдаха</text>
<text x="407.5" y="93.2" class="lb" font-size="8">(клиновидный)</text>
<text x="444.3" y="107.8" class="lb" font-size="8">Собственные проводящие</text>
<text x="444.3" y="117.1" class="lb" font-size="8">пути спинного мозга</text>
<text x="500.5" y="142.3" class="lb" font-size="8">Спиномозжечковый путь</text>
<text x="500.5" y="151.2" class="lb" font-size="8">(пучок Флексига)</text>
<text x="553.8" y="172.8" class="lb" font-size="8">Кортикоспинальный</text>
<text x="553.8" y="182" class="lb" font-size="8">латеральный путь</text>
<text x="577" y="202.3" class="lb" font-size="8">Красноядерно-спинальный</text>
<text x="577" y="211.3" class="lb" font-size="8">путь</text>
<text x="570.6" y="268.4" class="lb" font-size="8">Спиномозжечковый (пучок</text>
<text x="570.6" y="277.4" class="lb" font-size="8">Говерса)</text>
<text x="569.5" y="302.2" class="lb" font-size="8">Латеральный</text>
<text x="567.6" y="311.5" class="lb" font-size="8">спиноталамический путь</text>
<text x="550" y="377.2" class="lb" font-size="8">Латеральный</text>
<text x="550" y="386.5" class="lb" font-size="8">вестибулоспинальный путь</text>
<text x="417.5" y="390.8" class="lb" font-size="8">Вентральный</text>
<text x="417.5" y="400.2" class="lb" font-size="8">спиноталамический путь</text>
<text x="413" y="417.8" class="lb" font-size="8">Медиальный</text>
<text x="413" y="426.8" class="lb" font-size="8">вестибулоспинальный путь</text>
<text x="401.4" y="435.8" class="lb" font-size="8">Тектоспинальный путь</text>
<text x="372.5" y="455.3" class="lb" font-size="8">Кортикоспинальный</text>
<text x="372.5" y="464.3" class="lb" font-size="8">вентральный путь</text>
<text x="274.3" y="457.2" class="lb" font-size="8">Fissura mediana anterior</text>
<text x="208" y="415.3" class="lb" font-size="8">Передние корешки</text>
<text x="121.9" y="383.4" class="lb" font-size="8">Белое вещество</text>
<text x="81.8" y="337.7" class="lb" font-size="8">Серое вещество</text>
</g>
</svg>
</body>
</html>
